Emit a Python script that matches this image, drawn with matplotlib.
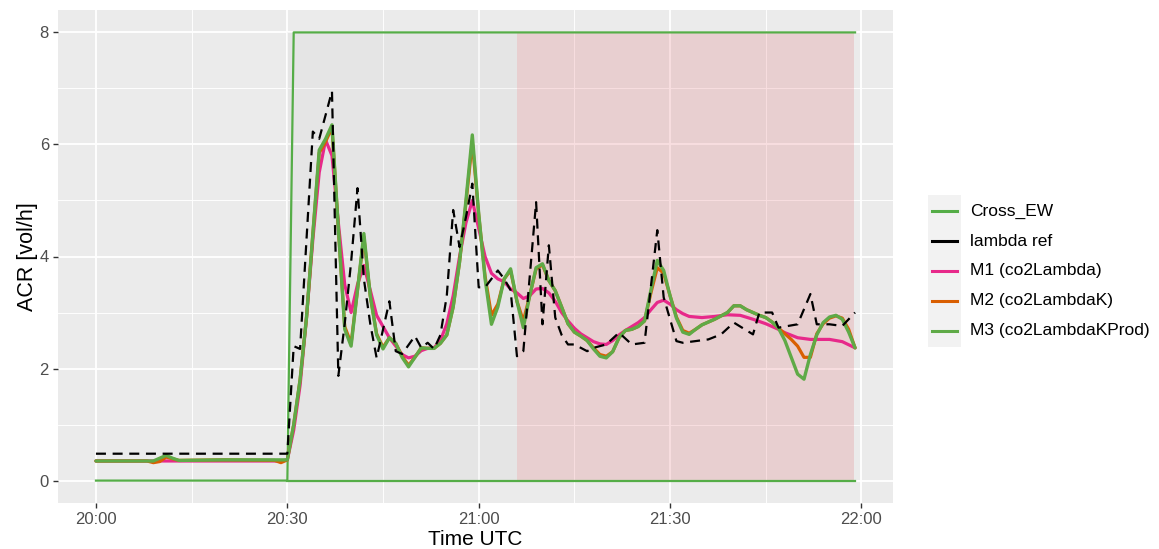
import matplotlib
matplotlib.use("Agg")
import matplotlib.pyplot as plt
import matplotlib.dates as mdates
import pandas as pd
from matplotlib.patches import Rectangle
from matplotlib.lines import Line2D

plt.rcParams['font.family'] = ['Liberation Sans', 'DejaVu Sans']

# ---------------- data (minutes after 20:00 UTC) ----------------
cross_t = [0, 30, 31, 119]
cross_v = [0, 0, 8, 8]
cross_floor_t = [30, 119]
cross_floor_v = [0, 0]

lambda_t = [0, 30, 31, 32, 34, 35, 37, 38, 39, 40, 41, 42, 43, 44, 46, 47, 48, 50, 51, 52, 53,
            54, 55, 56, 57, 58, 59, 60, 61, 63, 64, 65, 66, 67, 69, 70, 71, 72, 73, 74, 75, 77,
            78, 80, 82, 84, 86, 88, 89, 91, 92, 96, 98, 100, 103, 104, 106, 107, 110, 112, 113,
            115, 117, 119]
lambda_v = [0.48, 0.48, 2.40, 2.35, 6.23, 6.10, 6.95, 1.87, 2.80, 3.90, 5.22, 3.60, 2.80, 2.19,
            3.20, 2.31, 2.26, 2.58, 2.37, 2.46, 2.35, 2.60, 3.30, 4.83, 4.17, 4.70, 5.30, 3.45,
            3.45, 3.75, 3.60, 3.40, 2.22, 2.31, 4.97, 2.79, 4.20, 2.91, 2.60, 2.43, 2.43, 2.31,
            2.37, 2.43, 2.64, 2.43, 2.46, 4.47, 3.27, 2.49, 2.46, 2.52, 2.61, 2.82, 2.61, 3.00,
            3.00, 2.73, 2.79, 3.33, 2.79, 2.79, 2.76, 3.00]

m1_t = [0, 29, 30, 31, 32, 33, 34, 35, 36, 37, 38, 39, 40, 41, 42, 43, 44, 45, 46, 47, 48, 49,
        50, 51, 52, 53, 54, 55, 56, 57, 58, 59, 60, 61, 62, 63, 64, 65, 66, 67, 68, 69, 70, 71,
        72, 73, 74, 75, 76, 77, 78, 79, 80, 81, 82, 83, 84, 85, 86, 87, 88, 89, 90, 91, 92, 93,
        95, 97, 99, 101, 103, 105, 107, 108, 110, 112, 115, 117, 119]
m1_v = [0.35, 0.35, 0.37, 0.90, 1.70, 2.90, 4.30, 5.50, 6.08, 5.80, 4.60, 3.50, 3.00, 3.50,
        3.84, 3.40, 2.95, 2.75, 2.55, 2.40, 2.25, 2.19, 2.22, 2.32, 2.36, 2.37, 2.50, 2.80,
        3.30, 4.00, 4.60, 5.00, 4.50, 4.00, 3.70, 3.60, 3.55, 3.42, 3.35, 3.25, 3.30, 3.42,
        3.43, 3.35, 3.20, 3.00, 2.85, 2.72, 2.62, 2.55, 2.48, 2.44, 2.43, 2.50, 2.60, 2.68,
        2.75, 2.82, 2.91, 3.05, 3.18, 3.22, 3.15, 3.05, 2.98, 2.93, 2.91, 2.93, 2.96, 2.95,
        2.88, 2.80, 2.70, 2.64, 2.55, 2.52, 2.52, 2.48, 2.37]

m3_t = [0, 9, 10, 11, 12, 13, 20, 29, 30, 31, 32, 33, 34, 35, 36, 37, 38, 39, 40, 41, 42, 43,
        44, 45, 46, 47, 48, 49, 50, 51, 52, 53, 54, 55, 56, 57, 58, 59, 60, 61, 62, 63, 64, 65,
        66, 67, 68, 69, 70, 71, 72, 73, 74, 75, 76, 77, 78, 79, 80, 81, 82, 83, 84, 85, 86, 87,
        88, 89, 90, 91, 92, 93, 94, 95, 96, 97, 98, 99, 100, 101, 102, 103, 104, 105, 106, 107,
        108, 109, 110, 111, 112, 113, 114, 115, 116, 117, 118, 119]
m3_v = [0.35, 0.35, 0.40, 0.45, 0.40, 0.36, 0.37, 0.37, 0.37, 1.00, 1.80, 2.90, 4.40, 5.90,
        6.10, 6.35, 4.50, 2.70, 2.40, 3.40, 4.41, 3.30, 2.60, 2.35, 2.55, 2.45, 2.20, 2.03,
        2.20, 2.37, 2.36, 2.36, 2.45, 2.60, 3.10, 3.90, 5.00, 6.17, 4.77, 3.60, 2.79, 3.10,
        3.60, 3.78, 3.20, 2.73, 3.30, 3.80, 3.87, 3.57, 3.39, 3.10, 2.80, 2.65, 2.58, 2.50,
        2.35, 2.22, 2.19, 2.30, 2.55, 2.68, 2.70, 2.75, 2.85, 3.40, 3.93, 3.75, 3.30, 2.90,
        2.65, 2.61, 2.70, 2.78, 2.83, 2.88, 2.94, 3.00, 3.12, 3.12, 3.05, 3.00, 2.95, 2.91,
        2.83, 2.72, 2.50, 2.20, 1.90, 1.81, 2.25, 2.60, 2.82, 2.92, 2.95, 2.88, 2.65, 2.37]

m2_t = [0, 8, 9, 10, 11, 12, 13, 20, 28, 29, 30, 31, 32, 33, 34, 35, 36, 37, 38, 39, 40, 41,
        42, 43, 44, 45, 46, 47, 48, 49, 50, 51, 52, 53, 54, 55, 56, 57, 58, 59, 60, 61, 62,
        63, 64, 65, 66, 67, 68, 69, 70, 71, 72, 73, 74, 75, 76, 77, 78, 79, 80, 81, 82, 83,
        84, 85, 86, 87, 88, 89, 90, 91, 92, 93, 94, 95, 96, 97, 98, 99, 100, 101, 102, 103,
        104, 105, 106, 107, 108, 109, 110, 111, 112, 113, 114, 115, 116, 117, 118, 119]
m2_v = [0.35, 0.35, 0.32, 0.34, 0.42, 0.39, 0.36, 0.37, 0.36, 0.32, 0.37, 1.00, 1.80, 2.90,
        4.40, 5.85, 6.05, 6.30, 4.50, 2.75, 2.45, 3.40, 4.35, 3.30, 2.62, 2.38, 2.55, 2.45,
        2.22, 2.06, 2.20, 2.37, 2.36, 2.36, 2.45, 2.60, 3.10, 3.90, 4.95, 6.05, 4.75, 3.65,
        2.95, 3.15, 3.60, 3.75, 3.20, 2.85, 3.30, 3.78, 3.85, 3.57, 3.39, 3.10, 2.80, 2.65,
        2.58, 2.50, 2.37, 2.25, 2.22, 2.30, 2.55, 2.68, 2.70, 2.75, 2.85, 3.35, 3.80, 3.70,
        3.30, 2.92, 2.68, 2.63, 2.70, 2.78, 2.83, 2.88, 2.94, 3.00, 3.12, 3.12, 3.05, 3.00,
        2.95, 2.91, 2.83, 2.72, 2.62, 2.52, 2.40, 2.20, 2.20, 2.62, 2.80, 2.90, 2.94, 2.90,
        2.70, 2.37]

grey_span = [30, 66]
red_span = [66, 118.8]
span_bottom, span_top = 0, 8

labels = ["Cross_EW", "lambda ref", "M1 (co2Lambda)", "M2 (co2LambdaK)", "M3 (co2LambdaKProd)"]
x_ticks = [0, 30, 60, 90, 120]
y_ticks = [0, 2, 4, 6, 8]

# ---------------- styling ----------------
C_CROSS = "#55AD47"
C_LAMBDA = "black"
C_M1 = "#E7298A"
C_M2 = "#D95F02"
C_M3 = "#5FAA47"

base = pd.Timestamp("2021-06-01 20:00")
def tt(mins):
    return [base + pd.Timedelta(minutes=float(m)) for m in mins]

W, H = 1159, 549
fig = plt.figure(figsize=(W / 100, H / 100), dpi=100)
fig.patch.set_facecolor("white")
ax = fig.add_axes([58 / W, 46 / H, 835 / W, 493 / H])
ax.set_facecolor("#EBEBEB")
for s in ax.spines.values():
    s.set_visible(False)

# shaded spans (limited to 0..8)
ax.fill_between(tt(grey_span), span_bottom, span_top, color="#8C8C8C", alpha=0.06,
                linewidth=0, zorder=1.5)
ax.fill_between(tt(red_span), span_bottom, span_top, color="#E0575F", alpha=0.19,
                linewidth=0, zorder=1.5)

# lines
ax.plot(tt(cross_t), cross_v, color=C_CROSS, lw=1.6, zorder=3)
ax.plot(tt(cross_floor_t), cross_floor_v, color=C_CROSS, lw=1.6, zorder=3)
ax.plot(tt(m1_t), m1_v, color=C_M1, lw=2.3, zorder=4, solid_capstyle="round")
ax.plot(tt(m2_t), m2_v, color=C_M2, lw=2.3, zorder=5, solid_capstyle="round")
ax.plot(tt(m3_t), m3_v, color=C_M3, lw=2.4, zorder=6, solid_capstyle="round")
ax.plot(tt(lambda_t), lambda_v, color=C_LAMBDA, lw=1.6, ls=(0, (4.5, 3)), zorder=7)

# axes limits (ggplot-like expansion)
xmin, xmax = 0, 119
ex = (xmax - xmin) * 0.05
ax.set_xlim(tt([xmin - ex])[0], tt([xmax + ex])[0])
ax.set_ylim(-0.4, 8.4)

ax.set_xticks(tt(x_ticks))
ax.set_xticks(tt([15, 45, 75, 105]), minor=True)
ax.xaxis.set_major_formatter(mdates.DateFormatter("%H:%M"))
ax.set_yticks(y_ticks)
ax.set_yticks([1, 3, 5, 7], minor=True)

ax.grid(which="major", color="white", lw=1.3, zorder=1)
ax.grid(which="minor", color="white", lw=0.65, zorder=1)
ax.set_axisbelow(True)

ax.tick_params(which="major", length=3.5, width=1.0, color="#333333",
               labelcolor="#4D4D4D", labelsize=12, pad=3)
ax.tick_params(which="minor", length=0)

ax.set_xlabel("Time UTC", fontsize=15, color="black", labelpad=2)
ax.set_ylabel("ACR [vol/h]", fontsize=15.5, color="black", labelpad=1)

# ---------------- legend (ggplot style) ----------------
key_x0, key_x1 = 928, 961
row_y = [211, 241, 271, 301, 331]
fig.add_artist(Rectangle((key_x0 / W, 1 - 347 / H), (key_x1 - key_x0) / W, (347 - 195) / H,
                         transform=fig.transFigure, facecolor="#F2F2F2", edgecolor="none"))
colors = [C_CROSS, C_LAMBDA, C_M1, C_M2, C_M3]
for lab, col, y in zip(labels, colors, row_y):
    yf = 1 - y / H
    fig.add_artist(Line2D([932 / W, 957 / W], [yf, yf], transform=fig.transFigure,
                          color=col, lw=2.2))
    fig.text(970 / W, yf, lab, fontsize=12.5, va="center", ha="left", color="black")

fig.savefig("out.png", dpi=100)
